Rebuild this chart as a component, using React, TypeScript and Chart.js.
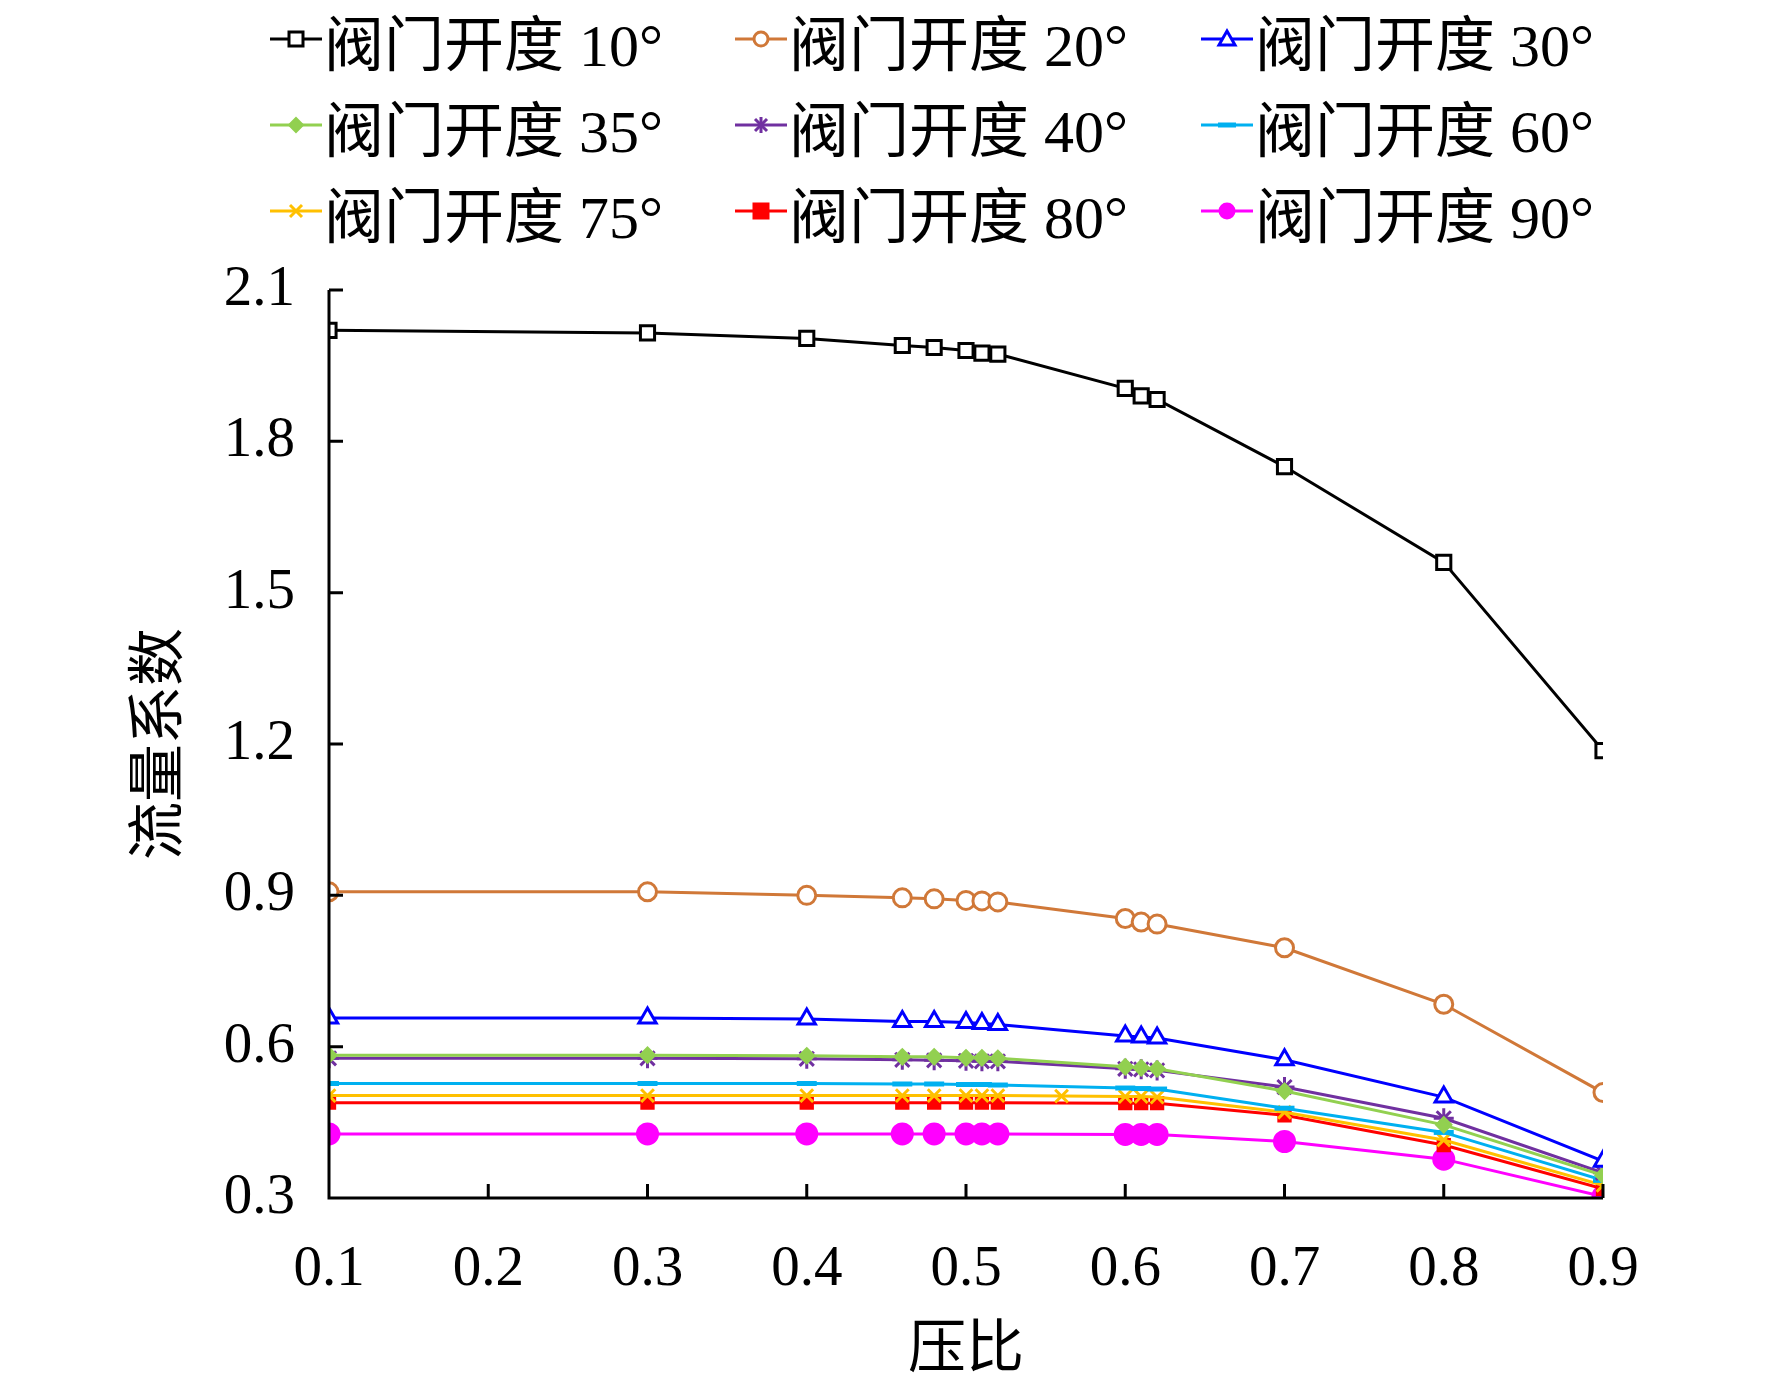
import { useEffect, useRef } from "react"
import { Chart, registerables } from "chart.js"

Chart.register(...registerables)

const xBase = [0.1, 0.3, 0.4, 0.46, 0.48, 0.5, 0.51, 0.52, 0.6, 0.61, 0.62, 0.7, 0.8, 0.9]
const x75 = [0.1, 0.3, 0.4, 0.46, 0.48, 0.5, 0.51, 0.52, 0.56, 0.6, 0.61, 0.62, 0.7, 0.8, 0.9]

const v10 = [2.02, 2.015, 2.004, 1.99, 1.986, 1.98, 1.975, 1.973, 1.905, 1.89, 1.883, 1.75, 1.56, 1.187]
const v20 = [0.907, 0.907, 0.9, 0.895, 0.893, 0.89, 0.889, 0.887, 0.854, 0.847, 0.843, 0.796, 0.684, 0.509]
const v30 = [0.657, 0.657, 0.655, 0.65, 0.65, 0.648, 0.646, 0.644, 0.621, 0.619, 0.617, 0.574, 0.5, 0.373]
const v35 = [0.583, 0.583, 0.582, 0.58, 0.58, 0.578, 0.578, 0.577, 0.56, 0.558, 0.556, 0.512, 0.445, 0.345]
const v40 = [0.577, 0.577, 0.576, 0.574, 0.573, 0.572, 0.571, 0.571, 0.556, 0.555, 0.553, 0.52, 0.458, 0.35]
const v60 = [0.527, 0.527, 0.527, 0.526, 0.526, 0.525, 0.525, 0.524, 0.518, 0.517, 0.516, 0.478, 0.43, 0.335]
const v75 = [0.503, 0.503, 0.503, 0.503, 0.503, 0.503, 0.503, 0.503, 0.502, 0.501, 0.501, 0.5, 0.47, 0.415, 0.325]
const v80 = [0.489, 0.489, 0.489, 0.489, 0.489, 0.489, 0.489, 0.489, 0.488, 0.488, 0.488, 0.464, 0.405, 0.318]
const v90 = [0.427, 0.427, 0.427, 0.427, 0.427, 0.427, 0.427, 0.427, 0.426, 0.426, 0.426, 0.412, 0.377, 0.303]

const yTicks = [0.3, 0.6, 0.9, 1.2, 1.5, 1.8, 2.1]
const xTicks = [0.1, 0.2, 0.3, 0.4, 0.5, 0.6, 0.7, 0.8, 0.9]

const series = [
  { label: "阀门开度 10°", xs: xBase, ys: v10, color: "#000000", style: "rect", fill: false, r: 10 },
  { label: "阀门开度 20°", xs: xBase, ys: v20, color: "#D07838", style: "circle", fill: false, r: 9 },
  { label: "阀门开度 30°", xs: xBase, ys: v30, color: "#0000FF", style: "triangle", fill: false, r: 10 },
  { label: "阀门开度 35°", xs: xBase, ys: v35, color: "#92D050", style: "rectRot", fill: true, r: 7 },
  { label: "阀门开度 40°", xs: xBase, ys: v40, color: "#7030A0", style: "star", fill: false, r: 10 },
  { label: "阀门开度 60°", xs: xBase, ys: v60, color: "#00B0F0", style: "line", fill: false, r: 10 },
  { label: "阀门开度 75°", xs: x75, ys: v75, color: "#FFC000", style: "crossRot", fill: false, r: 9 },
  { label: "阀门开度 80°", xs: xBase, ys: v80, color: "#FF0000", style: "rect", fill: true, r: 8 },
  { label: "阀门开度 90°", xs: xBase, ys: v90, color: "#FF00FF", style: "circle", fill: true, r: 10 },
]

const font = "'Liberation Serif', 'Times New Roman', 'Noto Sans CJK SC', serif"
const cjkFont = "'Noto Sans CJK SC', 'Liberation Serif', serif"

function Glyph({ style, color, fill }: { style: string; color: string; fill: boolean }) {
  const f = fill ? color : "#fff"
  let m: any = null
  if (style === "rect") m = <rect x={19} y={9} width={14} height={14} fill={f} stroke={color} strokeWidth={3} />
  else if (style === "circle") m = <circle cx={26} cy={16} r={7} fill={f} stroke={color} strokeWidth={3} />
  else if (style === "triangle") m = <polygon points="26,8 34,22 18,22" fill="#fff" stroke={color} strokeWidth={3} />
  else if (style === "rectRot") m = <polygon points="26,9 33,16 26,23 19,16" fill={color} stroke={color} strokeWidth={2} />
  else if (style === "star") m = <g stroke={color} strokeWidth={3}><line x1={20} y1={10} x2={32} y2={22} /><line x1={32} y1={10} x2={20} y2={22} /><line x1={26} y1={8} x2={26} y2={24} /></g>
  else if (style === "crossRot") m = <g stroke={color} strokeWidth={3}><line x1={20} y1={10} x2={32} y2={22} /><line x1={32} y1={10} x2={20} y2={22} /></g>
  else if (style === "line") m = <line x1={17} y1={16} x2={35} y2={16} stroke={color} strokeWidth={5} />
  return (
    <svg width={52} height={32} style={{ verticalAlign: "middle" }}>
      <line x1={0} y1={16} x2={52} y2={16} stroke={color} strokeWidth={3} />
      {m}
    </svg>
  )
}

const inwardTicks = {
  id: "inwardTicks",
  afterDraw(chart: any) {
    const { ctx, chartArea, scales } = chart
    ctx.save()
    ctx.strokeStyle = "#000"
    ctx.lineWidth = 3
    ctx.beginPath()
    xTicks.forEach((t) => {
      const px = scales.x.getPixelForValue(t)
      ctx.moveTo(px, chartArea.bottom)
      ctx.lineTo(px, chartArea.bottom - 14)
    })
    yTicks.forEach((t) => {
      const py = scales.y.getPixelForValue(t)
      ctx.moveTo(chartArea.left, py)
      ctx.lineTo(chartArea.left + 14, py)
    })
    ctx.moveTo(chartArea.left, chartArea.top)
    ctx.lineTo(chartArea.left, chartArea.bottom)
    ctx.lineTo(chartArea.right, chartArea.bottom)
    ctx.stroke()
    ctx.restore()
  },
}

export default function App() {
  const canvasRef = useRef<HTMLCanvasElement>(null)
  const chartRef = useRef<Chart | null>(null)

  useEffect(() => {
    if (!canvasRef.current) return
    if (chartRef.current) chartRef.current.destroy()
    const ctx = canvasRef.current.getContext("2d")
    if (!ctx) return

    chartRef.current = new Chart(ctx, {
      type: "line",
      data: {
        datasets: series.map((s) => ({
          label: s.label,
          data: s.xs.map((x, i) => ({ x, y: s.ys[i] })),
          borderColor: s.color,
          backgroundColor: s.fill ? s.color : "#fff",
          pointBorderColor: s.color,
          pointBackgroundColor: s.fill ? s.color : "#fff",
          pointStyle: s.style as any,
          pointRadius: s.r,
          pointBorderWidth: s.style === "line" ? 5 : 3,
          borderWidth: 3,
          tension: 0,
        })),
      },
      options: {
        responsive: false,
        animation: false,
        layout: { padding: { top: 290, right: 169, left: 0, bottom: 0 } },
        plugins: { legend: { display: false }, tooltip: { enabled: false } },
        scales: {
          x: {
            type: "linear",
            min: 0.1,
            max: 0.9,
            afterFit: (s: any) => { s.height = 182 },
            afterBuildTicks: (s: any) => { s.ticks = xTicks.map((v) => ({ value: v })) },
            grid: { display: false },
            border: { display: false },
            ticks: { color: "#000", font: { family: font, size: 57 }, padding: 30, maxRotation: 0, callback: (v: any) => Number(v).toFixed(1) },
            title: { display: true, text: "压比", color: "#000", font: { family: cjkFont, size: 58 }, padding: { top: 0, bottom: 0 } },
          },
          y: {
            min: 0.3,
            max: 2.1,
            afterFit: (s: any) => { s.width = 329 },
            afterBuildTicks: (s: any) => { s.ticks = yTicks.map((v) => ({ value: v })) },
            grid: { display: false },
            border: { display: false },
            ticks: { color: "#000", font: { family: font, size: 57 }, padding: 26, callback: (v: any) => Number(v).toFixed(1) },
            title: { display: true, text: "流量系数", color: "#000", font: { family: cjkFont, size: 58 }, padding: { top: 120, bottom: 0 } },
          },
        },
      },
      plugins: [inwardTicks],
    })

    return () => {
      if (chartRef.current) chartRef.current.destroy()
    }
  }, [])

  return (
    <div style={{ position: "fixed", left: 0, top: 0, width: 1772, height: 1380, background: "#fff" }}>
      <canvas ref={canvasRef} width={1772} height={1380} style={{ position: "absolute", left: 0, top: 0 }} />
      <div style={{ position: "absolute", left: 270, top: 0, width: 1450, display: "grid", gridTemplateColumns: "465px 466px 500px", rowGap: 8 }}>
        {series.map((s) => (
          <div key={s.label} style={{ display: "flex", alignItems: "center", height: 78, whiteSpace: "nowrap" }}>
            <Glyph style={s.style} color={s.color} fill={s.fill} />
            <span style={{ fontFamily: font, fontSize: 60, color: "#000", marginLeft: 2 }}>
              <span style={{ fontFamily: cjkFont }}>{s.label.slice(0, 4)}</span>
              {s.label.slice(4)}
            </span>
          </div>
        ))}
      </div>
    </div>
  )
}
